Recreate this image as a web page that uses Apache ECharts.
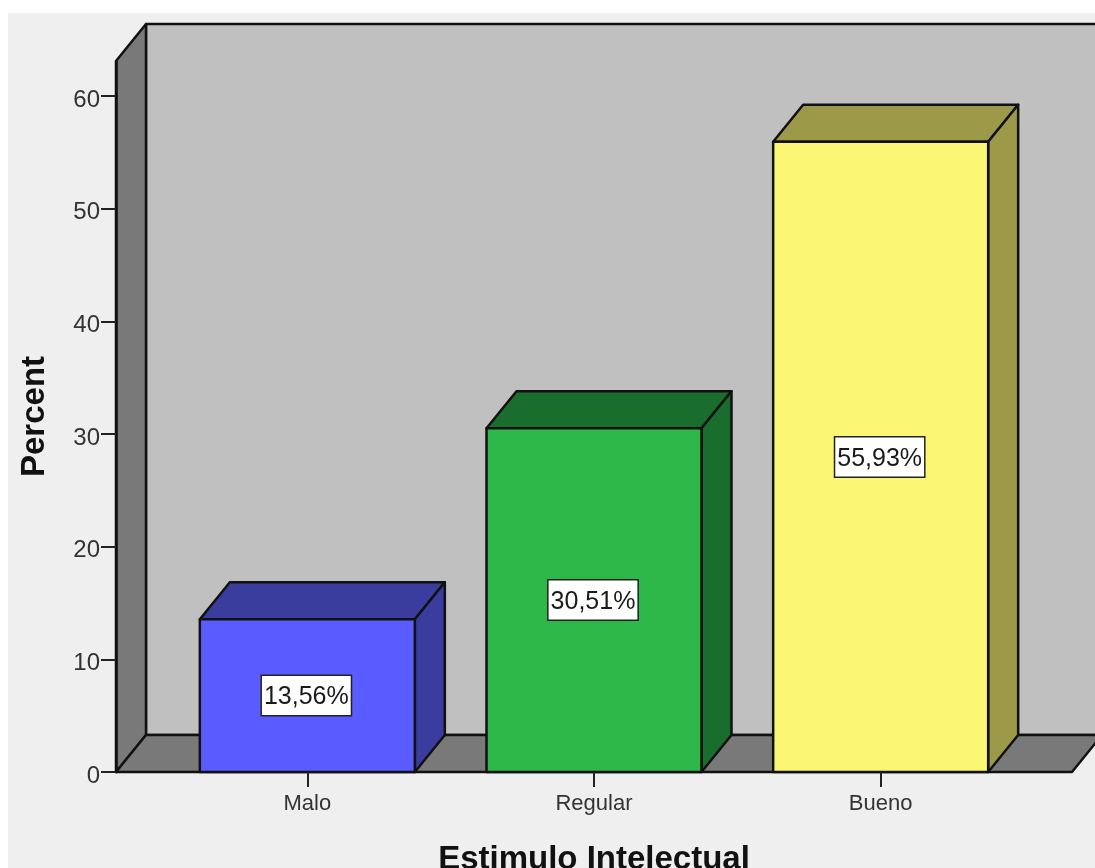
<!DOCTYPE html>
<html>
<head>
<meta charset="utf-8">
<style>
  html, body { margin: 0; padding: 0; background: #ffffff; }
  #chart { width: 1095px; height: 868px; }
</style>
<script src="https://cdn.jsdelivr.net/npm/echarts@6/dist/echarts.min.js"></script>
</head>
<body>
<div id="chart"></div>
<script>
const categories = ['Malo', 'Regular', 'Bueno'];
const percents = [13.56, 30.51, 55.93];
const yTicks = [0, 10, 20, 30, 40, 50, 60];
const frontColors = ['#5a5cff', '#2eb84a', '#fbf775'];
const sideColors = ['#3a3c9e', '#1a6e2d', '#9c9a49'];

const DEPTH_X = 30;
const DEPTH_Y = -37;
const AXIS_OVERHANG = 48;
const LABEL_BOX_HEIGHT = 39;
const FONT = '"Liberation Sans", Arial, sans-serif';
const EDGE = '#111111';

const poly = (points, fill, width) => ({
  type: 'polygon',
  shape: { points },
  style: { fill, stroke: EDGE, lineWidth: width, lineJoin: 'round' }
});

// Back wall, side wall and floor of the 3D box.
function renderBox(params, api) {
  const cs = params.coordSys;
  const left = cs.x - AXIS_OVERHANG;
  const right = cs.x + cs.width + AXIS_OVERHANG;
  const top = cs.y;
  const bottom = cs.y + cs.height;
  const bx = DEPTH_X, by = DEPTH_Y;
  return {
    type: 'group',
    children: [
      poly([[left + bx, top + by], [right + bx, top + by], [right + bx, bottom + by], [left + bx, bottom + by]], '#c0c0c0', 2.5),
      poly([[left, top], [left + bx, top + by], [left + bx, bottom + by], [left, bottom]], '#797979', 2.5),
      poly([[left, bottom], [left + bx, bottom + by], [right + bx, bottom + by], [right, bottom]], '#797979', 2.5)
    ]
  };
}

// Extruded bar with its boxed percentage label.
function renderBar(params, api) {
  const i = api.value(0);
  const value = api.value(1);
  const base = api.coord([i, 0]);
  const tip = api.coord([i, value]);
  const w = api.size([1, 0])[0] * 0.75;
  const x0 = base[0] - w / 2;
  const x1 = base[0] + w / 2;
  const y0 = tip[1];
  const y1 = base[1];
  const dx = DEPTH_X, dy = DEPTH_Y;
  return {
    type: 'group',
    children: [
      poly([[x0, y0], [x0 + dx, y0 + dy], [x1 + dx, y0 + dy], [x1, y0]], sideColors[i], 2.5),
      poly([[x1, y0], [x1 + dx, y0 + dy], [x1 + dx, y1 + dy], [x1, y1]], sideColors[i], 2.5),
      poly([[x0, y0], [x1, y0], [x1, y1], [x0, y1]], frontColors[i], 2.5),
      {
        type: 'text',
        z2: 10,
        style: {
          x: base[0] - 1,
          y: (y0 + y1) / 2 - LABEL_BOX_HEIGHT / 2,
          text: value.toFixed(2).replace('.', ',') + '%',
          align: 'center',
          verticalAlign: 'top',
          font: '25px ' + FONT,
          fill: '#1a1a1a',
          backgroundColor: '#ffffff',
          borderColor: '#222222',
          borderWidth: 1.5,
          padding: [9, 2, 5, 2]
        }
      }
    ]
  };
}

const chart = echarts.init(document.getElementById('chart'), null, { renderer: 'canvas' });
chart.setOption({
  animation: false,
  backgroundColor: '#ffffff',
  graphic: [{
    type: 'rect',
    z: -10,
    shape: { x: 8, y: 13, width: 1087, height: 855 },
    style: { fill: '#efefef' }
  }],
  grid: { left: 164, right: 71, top: 61, bottom: 96, outerBoundsMode: 'none' },
  xAxis: {
    type: 'category',
    data: categories,
    z: 5,
    name: 'Estimulo Intelectual',
    nameLocation: 'middle',
    nameGap: 71,
    nameTextStyle: { fontFamily: FONT, fontSize: 33, fontWeight: 'bold', color: '#111111' },
    axisLine: { show: false },
    axisTick: { show: true, alignWithLabel: true, length: 15, lineStyle: { color: '#222222', width: 2 } },
    axisLabel: { fontFamily: FONT, fontSize: 22, color: '#333333', margin: 21, verticalAlign: 'top' }
  },
  yAxis: {
    type: 'value',
    min: 0,
    max: 63.1,
    offset: AXIS_OVERHANG,
    z: 5,
    name: 'Percent',
    nameLocation: 'middle',
    nameGap: 65,
    nameTextStyle: { fontFamily: FONT, fontSize: 33, fontWeight: 'bold', color: '#111111' },
    splitLine: { show: false },
    axisLine: { show: true, lineStyle: { color: EDGE, width: 2.5 } },
    axisTick: { show: true, customValues: yTicks, length: 15, lineStyle: { color: '#222222', width: 2 } },
    axisLabel: { customValues: yTicks, fontFamily: FONT, fontSize: 24, color: '#333333', margin: 16, verticalAlign: 'top', lineHeight: 8 }
  },
  series: [
    {
      type: 'custom',
      z: 1,
      silent: true,
      coordinateSystem: 'cartesian2d',
      renderItem: renderBox,
      data: [[0, 0]],
      encode: { x: 0, y: 1 }
    },
    {
      type: 'custom',
      z: 2,
      coordinateSystem: 'cartesian2d',
      renderItem: renderBar,
      data: percents.map((v, i) => [i, v]),
      encode: { x: 0, y: 1 }
    }
  ]
});
</script>
</body>
</html>
